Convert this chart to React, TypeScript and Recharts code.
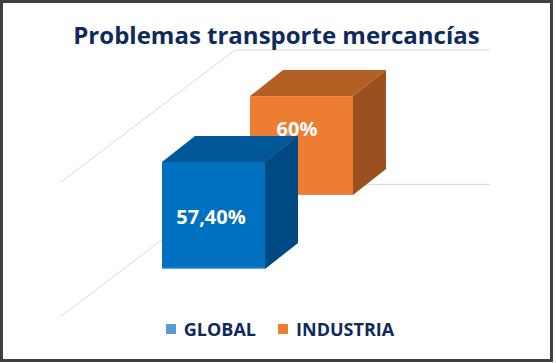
import React from 'react';
import {
  Bar,
  BarChart,
  CartesianGrid,
  LabelList,
  Legend,
  XAxis,
  YAxis,
} from 'recharts';

const categories = ['Problemas transporte mercancías'];
const seriesNames = ['GLOBAL', 'INDUSTRIA'];
const globalValues = [57.4];
const industriaValues = [60];
const valueLabels: Record<string, string> = { GLOBAL: '57,40%', INDUSTRIA: '60%' };
const wallTicks = [0, 1];

const data = categories.map((name, i) => ({
  name,
  GLOBAL: globalValues[i],
  INDUSTRIA: industriaValues[i],
}));

const FONT = '"Open Sans", "DejaVu Sans", sans-serif';
const NAVY = '#0e2a5c';

// face colours of each cube, legend swatch colours
const faces: Record<string, { front: string; top: string; side: string; edge?: string }> = {
  GLOBAL: { front: '#0070c0', top: '#005899', side: '#004a83', edge: '#5ea2dc' },
  INDUSTRIA: { front: '#ed7d31', top: '#b45f24', side: '#9a511f' },
};
const legendColors: Record<string, string> = { GLOBAL: '#5b9bd5', INDUSTRIA: '#ed7d31' };

// 3D depth of the cubes and of the side wall
const DEPTH = { dx: 33, dy: -26 };
const WALL = { left: 232, rightInset: 22, sideDx: -174, sideDy: 132 };

const Cube = (props: any) => {
  const { x, y, width, height, name } = props;
  if (width == null || height == null) return null;
  const f = faces[name];
  const { dx, dy } = DEPTH;
  return (
    <g>
      <polygon
        points={`${x},${y} ${x + dx},${y + dy} ${x + width + dx},${y + dy} ${x + width},${y}`}
        fill={f.top}
      />
      <polygon
        points={`${x + width},${y} ${x + width + dx},${y + dy} ${x + width + dx},${y + height + dy} ${x + width},${y + height}`}
        fill={f.side}
      />
      <rect x={x} y={y} width={width} height={height} fill={f.front} />
      {f.edge && (
        <line x1={x} y1={y + height - 0.5} x2={x + width} y2={y + height - 0.5} stroke={f.edge} strokeWidth={1.5} />
      )}
    </g>
  );
};

const valueLabel = (name: string, dx: number, dy: number) => (p: any) => {
  const cx = p.x + p.width / 2 + dx;
  const cy = p.y + p.height / 2 + dy;
  return (
    <text
      x={cx}
      y={cy}
      textAnchor='middle'
      fill='#ffffff'
      fontSize={20}
      fontWeight={700}
      fontFamily={FONT}
    >
      {valueLabels[name]}
    </text>
  );
};

const WallLine = (props: any) => {
  const { x1, x2, y1 } = props;
  const left = x1 + WALL.left;
  const right = x2 - WALL.rightInset;
  return (
    <polyline
      key={`wall-${y1}`}
      points={`${left + WALL.sideDx},${y1 + WALL.sideDy} ${left},${y1} ${right},${y1}`}
      fill='none'
      stroke='#d9d9d9'
      strokeWidth={1}
    />
  );
};

const LegendContent = () => (
  <div
    style={{
      display: 'flex',
      justifyContent: 'center',
      alignItems: 'center',
      paddingLeft: 7,
      fontFamily: FONT,
      fontSize: 18,
      lineHeight: '18px',
      fontWeight: 700,
      color: NAVY,
    }}
  >
    {seriesNames.map((s, i) => (
      <div key={s} style={{ display: 'flex', alignItems: 'center', marginLeft: i ? 22 : 0 }}>
        <span style={{ width: 10, height: 10, background: legendColors[s], marginRight: 8 }} />
        <span>{s}</span>
      </div>
    ))}
  </div>
);

const App = () => {
  return (
    <div
      style={{
        position: 'relative',
        width: 553,
        height: 362,
        border: '3px solid #404040',
        boxSizing: 'border-box',
        background: '#ffffff',
        fontFamily: FONT,
      }}
    >
      <style>{'body{margin:0}'}</style>
      <div
        style={{
          position: 'absolute',
          top: 20,
          left: 0,
          width: 547,
          textAlign: 'center',
          fontSize: 24,
          lineHeight: '24px',
          fontWeight: 700,
          color: NAVY,
          zIndex: 1,
        }}
      >
        {categories[0]}
      </div>
      <BarChart
        width={547}
        height={356}
        data={data}
        margin={{ top: 47, right: 38, bottom: 90, left: 0 }}
        // back series first so the front cube overlaps it; negative gap puts it to the right
        barGap={-191}
      >
        <CartesianGrid
          yAxisId='wall'
          vertical={false}
          syncWithTicks
          horizontal={(p: any) => <WallLine {...p} />}
        />
        <XAxis dataKey='name' hide />
        <YAxis yAxisId='wall' hide domain={[-0.63, 1]} ticks={wallTicks} allowDataOverflow />
        <YAxis yAxisId='back' hide domain={[-45, 88]} allowDataOverflow />
        <YAxis yAxisId='front' hide domain={[0, 117.5]} allowDataOverflow />
        <Legend
          layout='horizontal'
          verticalAlign='middle'
          align='center'
          wrapperStyle={{ top: 317, left: 0, width: 547 }}
          content={<LegendContent />}
        />
        <Bar
          dataKey='INDUSTRIA'
          yAxisId='back'
          barSize={103}
          isAnimationActive={false}
          shape={(p: any) => <Cube {...p} name='INDUSTRIA' />}
        >
          <LabelList dataKey='INDUSTRIA' content={valueLabel('INDUSTRIA', -4.5, -9.5)} />
        </Bar>
        <Bar
          dataKey='GLOBAL'
          yAxisId='front'
          barSize={103}
          isAnimationActive={false}
          shape={(p: any) => <Cube {...p} name='GLOBAL' />}
        >
          <LabelList dataKey='GLOBAL' content={valueLabel('GLOBAL', -2.5, 8.5)} />
        </Bar>
      </BarChart>
    </div>
  );
};

export default App;
